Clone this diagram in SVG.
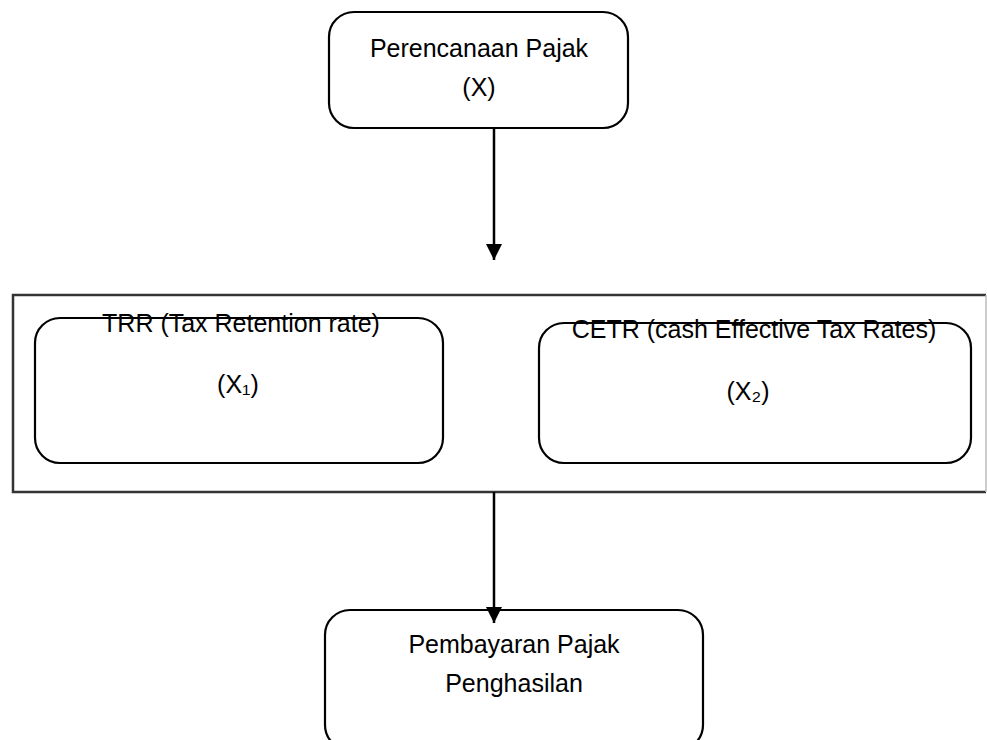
<svg xmlns="http://www.w3.org/2000/svg" width="987" height="740" viewBox="0 0 987 740">
<style>
.box{fill:none;stroke:#000;stroke-width:2.2}
.t{font-family:"Liberation Sans",Arial,sans-serif;font-size:25px;fill:#000;text-anchor:middle}
.c{stroke:#000;stroke-width:2.5;fill:none}
</style>
<defs>
<marker id="ah" markerUnits="userSpaceOnUse" markerWidth="16" markerHeight="16" viewBox="0 0 16 16" refX="8" refY="16" orient="auto-start-reverse">
<path d="M0,0 L16,0 L8,16 Z" fill="#000" transform="rotate(-90 8 8)"/>
</marker>
<marker id="ad" markerUnits="userSpaceOnUse" markerWidth="16" markerHeight="16" viewBox="0 0 16 16" refX="16" refY="8" orient="auto">
<path d="M0,0 L16,8 L0,16 Z" fill="#000"/>
</marker>
</defs>
<rect width="987" height="740" fill="#fff"/>
<g id="group-frame">
<path d="M986,295 L13,295 L13,492 L986,492" fill="none" stroke="#333" stroke-width="2.5"/>
<line x1="986" y1="295" x2="986" y2="492" stroke="#bbb" stroke-width="1.5"/>
</g>
<g id="connectors">
<line class="c" x1="494" y1="128" x2="494" y2="260" marker-end="url(#ad)"/>
<line class="c" x1="494" y1="492" x2="494" y2="623" marker-end="url(#ad)"/>
</g>
<g id="node-perencanaan">
<rect class="box" x="329" y="12" width="299" height="116" rx="25"/>
<text class="t" x="479" y="57">Perencanaan Pajak</text>
<text class="t" x="479" y="96">(X)</text>
</g>
<g id="node-trr">
<rect class="box" x="35" y="318" width="408" height="145" rx="25"/>
<text class="t" x="241" y="332">TRR (Tax Retention rate)</text>
<text class="t" x="238" y="393">(X₁)</text>
</g>
<g id="node-cetr">
<rect class="box" x="539" y="323" width="432" height="140" rx="25"/>
<text class="t" x="754" y="338">CETR (cash Effective Tax Rates)</text>
<text class="t" x="748" y="400">(X₂)</text>
</g>
<g id="node-pembayaran">
<rect class="box" x="325" y="610" width="378" height="140" rx="25"/>
<text class="t" x="514" y="653">Pembayaran Pajak</text>
<text class="t" x="514" y="692">Penghasilan</text>
</g>
</svg>
